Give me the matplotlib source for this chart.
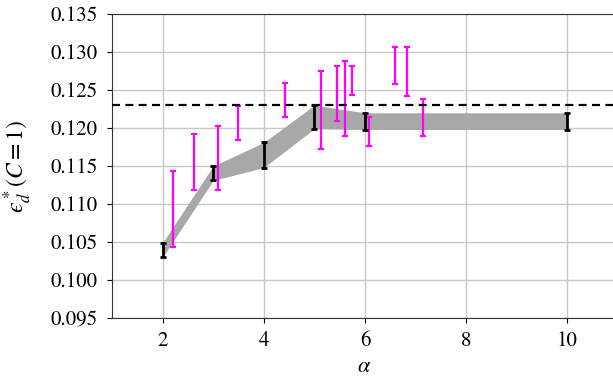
import numpy as np
import matplotlib
matplotlib.use("Agg")
import matplotlib.pyplot as plt

plt.rcParams['font.family'] = ['STIXGeneral', 'DejaVu Serif']
plt.rcParams['mathtext.fontset'] = 'stix'

# black error bars (also the band)
alpha_main = [2, 3, 4, 5, 6, 10]
main_low = [0.1030, 0.1131, 0.1148, 0.1199, 0.1198, 0.1198]
main_high = [0.1049, 0.1150, 0.1181, 0.1230, 0.1220, 0.1220]

# magenta error bars
alpha_pts = [2.20, 2.63, 3.10, 3.50, 4.41, 5.14, 5.44, 5.61, 5.75, 6.08, 6.59, 6.83, 7.15]
pts_low = [0.1044, 0.1118, 0.1119, 0.1184, 0.1215, 0.1173, 0.1209, 0.1189, 0.1243,
           0.1176, 0.1258, 0.1242, 0.1189]
pts_high = [0.1143, 0.1192, 0.1203, 0.1229, 0.1259, 0.1275, 0.1282, 0.1288, 0.1282,
            0.1214, 0.1306, 0.1306, 0.1238]

ref_level = 0.1230

fig = plt.figure(figsize=(6.13, 3.76), dpi=100)
ax = fig.add_axes([0.1827, 0.1543, 0.8254, 0.8085])

main_low = np.array(main_low)
main_high = np.array(main_high)
ax.fill_between(alpha_main, main_low, main_high, color='#a8a8a8', lw=0, zorder=2)
mid = (main_low + main_high) / 2
ax.errorbar(alpha_main, mid, yerr=(main_high - main_low) / 2, fmt='none',
            ecolor='black', elinewidth=2, capsize=2.5, capthick=2, zorder=4)

pts_low = np.array(pts_low)
pts_high = np.array(pts_high)
pmid = (pts_low + pts_high) / 2
ax.errorbar(alpha_pts, pmid, yerr=(pts_high - pts_low) / 2, fmt='none',
            ecolor='magenta', elinewidth=1.6, capsize=2, capthick=1.6, zorder=3)

ax.axhline(ref_level, color='black', ls='--', lw=1.6, dashes=(3.6, 2.4), zorder=5)

ax.set_xlim(1, 11)
ax.set_ylim(0.095, 0.135)
ax.set_xticks([2, 4, 6, 8, 10])
ax.set_yticks(np.arange(0.095, 0.1351, 0.005))
ax.yaxis.set_major_formatter(matplotlib.ticker.FormatStrFormatter('%.3f'))
ax.tick_params(axis='y', labelsize=15, pad=7)
ax.tick_params(axis='x', labelsize=15, pad=6)
ax.grid(True, color='#c8c8c8', lw=1)
ax.set_axisbelow(True)
for s in ax.spines.values():
    s.set_color('#333333')

ax.set_xlabel(r'$\alpha$', fontsize=16)
ax.xaxis.set_label_coords(0.499, -0.13)
ax.set_ylabel('$\u03f5_d^*(C = 1)$', fontsize=17)
ax.yaxis.set_label_coords(-0.155, 0.5)

fig.savefig('out.png', dpi=100)
